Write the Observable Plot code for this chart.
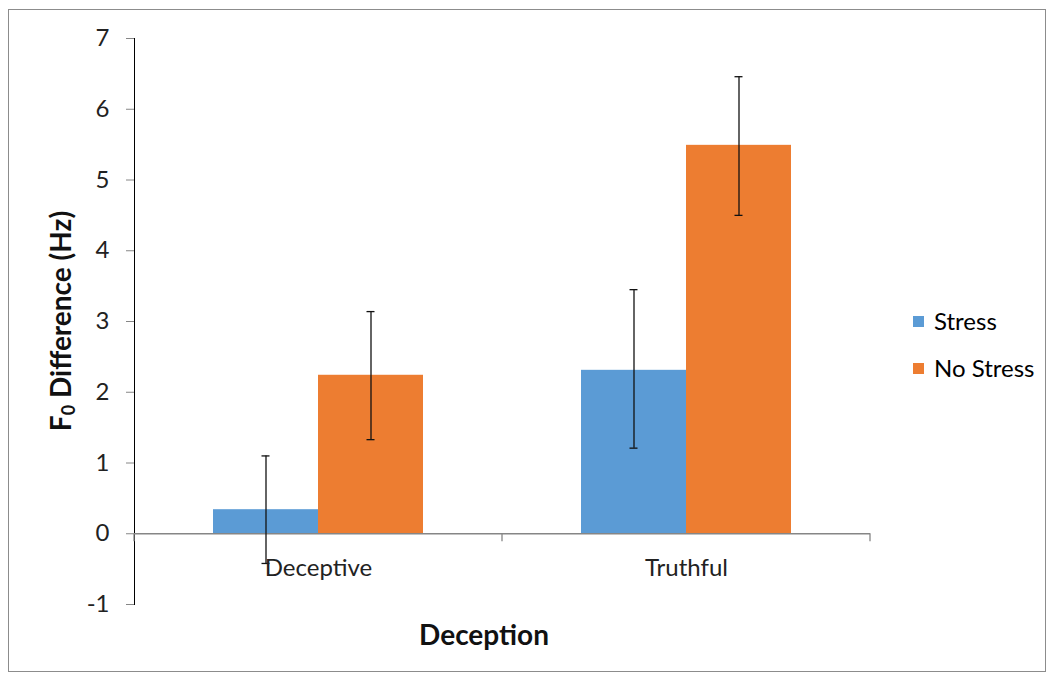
<!DOCTYPE html>
<html><head><meta charset="utf-8">
<script src="https://cdn.jsdelivr.net/npm/d3@7"></script>
<script src="https://cdn.jsdelivr.net/npm/@observablehq/plot@0.6"></script>
<style>
body{margin:0;background:#fff;font-family:Lato,sans-serif;}
#wrap{position:relative;width:1051px;height:677px;overflow:hidden;}
#frame{position:absolute;left:8px;top:9px;width:1038px;height:663px;border:1px solid #8c8c8c;box-sizing:border-box;pointer-events:none;}
#chart{position:absolute;left:0;top:0;}
.leg{position:absolute;left:913px;font-size:24px;line-height:24px;color:#000;display:flex;align-items:center;white-space:nowrap;}
.leg span.sw{display:inline-block;width:11px;height:11px;margin-right:10px;}
</style></head><body>
<div id="wrap"><div id="chart"></div><div id="frame"></div></div>
<script>
const categories = ["Deceptive", "Truthful"];
const series = ["Stress", "No Stress"];
const stressMean = [0.34, 2.31];
const stressLow = [-0.42, 1.21];
const stressHigh = [1.10, 3.45];
const noStressMean = [2.24, 5.49];
const noStressLow = [1.33, 4.50];
const noStressHigh = [3.14, 6.46];
const yTicks = [-1, 0, 1, 2, 3, 4, 5, 6, 7];
const colors = ["#5B9BD5", "#ED7D31"];
const xTitle = "Deception";

const data = categories.flatMap((c, i) => [
  {cat: c, s: series[0], v: stressMean[i], lo: stressLow[i], hi: stressHigh[i]},
  {cat: c, s: series[1], v: noStressMean[i], lo: noStressLow[i], hi: noStressHigh[i]}
]);

const plot = Plot.plot({
  width: 1051, height: 677,
  marginLeft: 134, marginRight: 181, marginTop: 38, marginBottom: 73,
  style: {fontFamily: "Lato, sans-serif", fontSize: "24px", color: "#000", background: "transparent", overflow: "visible"},
  fx: {domain: categories, padding: 0, axis: null},
  x: {domain: series, paddingInner: 0, paddingOuter: 0.752, axis: null},
  y: {domain: [-1, 7], ticks: yTicks, tickSize: 8, tickPadding: 17, label: null, line: true,
      tickFormat: d => (d < 0 ? "-" + Math.abs(d) : String(d))},
  color: {domain: series, range: colors},
  marks: [
    Plot.barY(data, {fx: "cat", x: "s", y: "v", fill: "s"}),
    Plot.ruleY([0], {stroke: "#868686", strokeWidth: 1.3}),
    Plot.ruleX(data, {fx: "cat", x: "s", y1: "lo", y2: "hi", stroke: "#111", strokeWidth: 1.3}),
    Plot.tickY(data, {fx: "cat", x: "s", y: "lo", stroke: "#111", strokeWidth: 1.3, insetLeft: 48.5, insetRight: 48.5}),
    Plot.tickY(data, {fx: "cat", x: "s", y: "hi", stroke: "#111", strokeWidth: 1.3, insetLeft: 48.5, insetRight: 48.5}),
    Plot.text(categories, {fx: d => d, y: d => 0, text: d => d, dy: 35, fontSize: 24, fill: "#222"})
  ]
});
document.getElementById("chart").appendChild(plot);

const svg = d3.select(plot);
svg.selectAll("[aria-label='y-axis tick'] path, [aria-label='y-axis tick'] line").attr("stroke", "#868686");
svg.selectAll("[aria-label='y-axis tick']").attr("stroke", "#868686");
svg.selectAll("[aria-label='y-axis line'], [aria-label='y-axis line'] line, [aria-label='y-axis line'] path").attr("stroke", "#868686");
svg.selectAll("[aria-label='y-axis tick label']").attr("fill", "#222");

// category boundary ticks on the zero line, from the fx scale
const fx = plot.scale("fx"), y = plot.scale("y");
const bw = fx.bandwidth;
const edges = [fx.apply(categories[0]), ...categories.map(c => fx.apply(c) + bw)];
const y0 = y.apply(0);
svg.append("g").selectAll("line").data(edges).join("line")
  .attr("x1", d => d).attr("x2", d => d).attr("y1", y0).attr("y2", y0 + 8)
  .attr("stroke", "#868686").attr("stroke-width", 1.3);

// axis titles
const yMid = (y.apply(yTicks[0]) + y.apply(yTicks[yTicks.length - 1])) / 2;
const yt = svg.append("text")
  .attr("transform", `translate(64,${yMid}) rotate(-90)`)
  .attr("text-anchor", "middle").attr("dominant-baseline", "middle")
  .attr("font-family", "Lato, sans-serif").attr("font-size", 28).attr("font-weight", "bold").attr("fill", "#111");
yt.append("tspan").text("F");
yt.append("tspan").attr("font-size", 18).attr("dy", 6).text("0");
yt.append("tspan").attr("dy", -6).text(" Difference (Hz)");

svg.append("text")
  .attr("x", 484).attr("y", 638)
  .attr("text-anchor", "middle").attr("dominant-baseline", "middle")
  .attr("font-family", "Lato, sans-serif").attr("font-size", 28).attr("font-weight", "bold").attr("fill", "#111")
  .text(xTitle);

// legend
const wrap = document.getElementById("wrap");
series.forEach((s, i) => {
  const d = document.createElement("div");
  d.className = "leg";
  d.style.top = (i === 0 ? 309 : 356) + "px";
  d.innerHTML = `<span class="sw" style="background:${colors[i]}"></span><span></span>`;
  d.lastChild.textContent = s;
  wrap.appendChild(d);
});
</script>
</body></html>
